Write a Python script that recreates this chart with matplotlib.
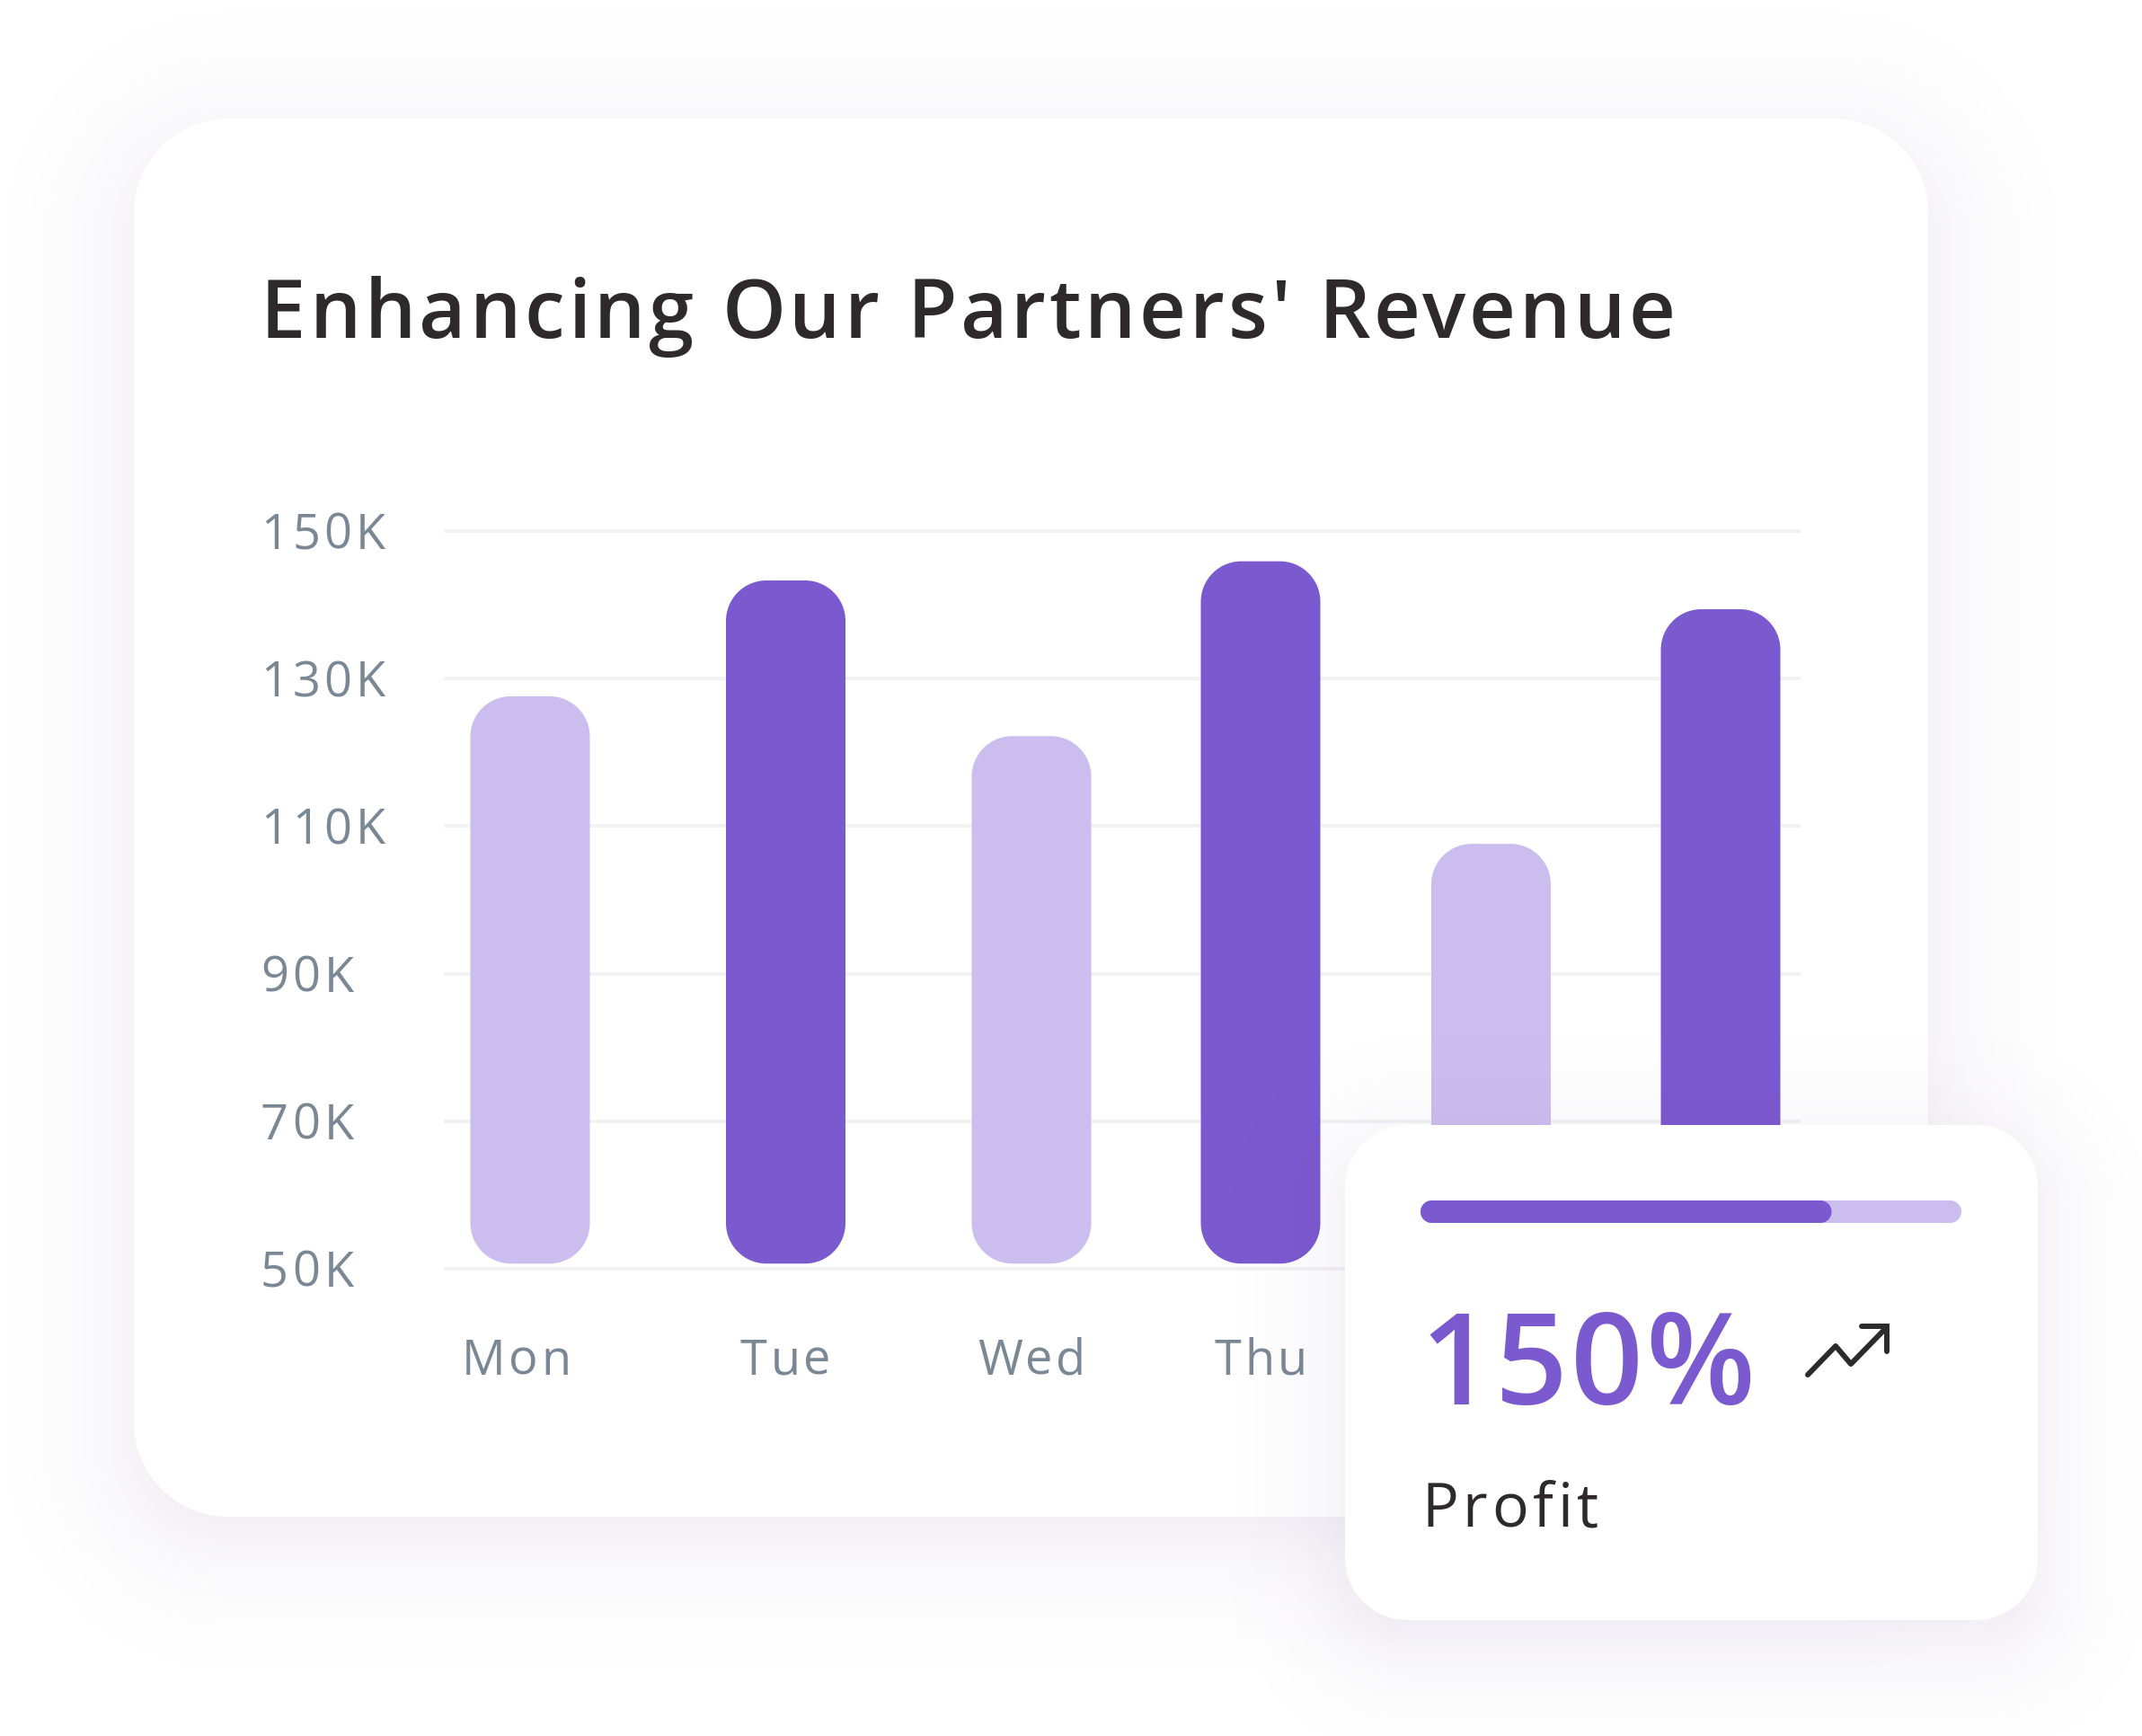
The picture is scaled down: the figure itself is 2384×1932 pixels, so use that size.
import numpy as np
import matplotlib
matplotlib.use('Agg')
import matplotlib.pyplot as plt
from matplotlib.font_manager import findfont, get_font
from matplotlib.ft2font import Kerning, LoadFlags
from matplotlib.patches import PathPatch
from matplotlib.path import Path
from matplotlib.text import Text
from matplotlib.transforms import ScaledTranslation

plt.rcParams['font.family'] = ['Open Sans', 'DejaVu Sans']

days = ['Mon', 'Tue', 'Wed', 'Thu']  # the last two are hidden behind the profit card
revenue = [127.6, 143.3, 122.2, 145.9, 107.6, 139.4]
highlight = [False, True, False, True, False, True]
y_ticks = [50, 70, 90, 110, 130, 150]
y_labels = ['50K', '70K', '90K', '110K', '130K', '150K']
title = "Enhancing Our Partners' Revenue"
profit_value = '150%'
profit_label = 'Profit'
progress_share = 0.76

W, H = 2384, 1932
PURPLE = '#7B59CE'
LIGHT = '#CBBDEE'
DARK = '#2E2A2B'
GREY = '#7A8794'
GRID = '#F2F2F4'

# bars are not evenly spaced in the picture
bar_x = [590, 874.5, 1148, 1403, 1659.5, 1915]
label_left = [514, 824, 1088, 1352]
bar_w = 133
bar_base = 50.7


class SpacedText(Text):
    # one text with letter spacing, which matplotlib has no option for
    def __init__(self, x, y, text, spacing=0, **kwargs):
        super().__init__(x, y, text, **kwargs)
        self.spacing = spacing

    def draw(self, renderer):
        prop = self.get_fontproperties()
        font = get_font(findfont(prop))
        font.set_size(prop.get_size_in_points(), renderer.dpi)
        x, y = self.get_transform().transform(self.get_position())
        y = renderer.get_canvas_width_height()[1] - y
        gc = renderer.new_gc()
        gc.set_foreground(self.get_color())
        prev = None
        for ch in self.get_text():
            idx = font.get_char_index(ord(ch))
            if prev is not None:
                x += font.get_kerning(prev, idx, Kerning.DEFAULT) / 64
            renderer.draw_text(gc, x, y, ch, prop, 0)
            x += font.load_char(ord(ch), flags=LoadFlags.NO_HINTING).linearHoriAdvance / 65536
            x += self.spacing
            prev = idx
        gc.restore()


def shadow(x0, y0, x1, y1, r, soft, strength, color):
    yy, xx = np.mgrid[0:H, 0:W]
    cx, cy = (x0 + x1) / 2, (y0 + y1) / 2
    qx = np.abs(xx + 0.5 - cx) - (x1 - x0) / 2 + r
    qy = np.abs(yy + 0.5 - cy) - (y1 - y0) / 2 + r
    d = np.hypot(np.maximum(qx, 0), np.maximum(qy, 0)) + np.minimum(np.maximum(qx, qy), 0) - r
    a = strength / (1 + np.exp(np.clip(d / soft, -30, 30)))
    img = np.zeros((H, W, 4))
    img[..., :3] = matplotlib.colors.to_rgb(color)
    img[..., 3] = a
    return img


def px_axes(z):
    a = fig.add_axes([0, 0, 1, 1], zorder=z)
    a.set_xlim(0, W)
    a.set_ylim(H, 0)
    a.axis('off')
    a.patch.set_alpha(0)
    return a


def rounded(x0, y0, x1, y1, rx, ry):
    # rectangle with true circular corners, FancyBboxPatch corners are too square
    k = 0.4477
    verts = [(x0 + rx, y0), (x1 - rx, y0),
             (x1 - k * rx, y0), (x1, y0 + k * ry), (x1, y0 + ry),
             (x1, y1 - ry),
             (x1, y1 - k * ry), (x1 - k * rx, y1), (x1 - rx, y1),
             (x0 + rx, y1),
             (x0 + k * rx, y1), (x0, y1 - k * ry), (x0, y1 - ry),
             (x0, y0 + ry),
             (x0, y0 + k * ry), (x0 + k * rx, y0), (x0 + rx, y0),
             (x0 + rx, y0)]
    codes = [Path.MOVETO, Path.LINETO,
             Path.CURVE4, Path.CURVE4, Path.CURVE4,
             Path.LINETO,
             Path.CURVE4, Path.CURVE4, Path.CURVE4,
             Path.LINETO,
             Path.CURVE4, Path.CURVE4, Path.CURVE4,
             Path.LINETO,
             Path.CURVE4, Path.CURVE4, Path.CURVE4,
             Path.CLOSEPOLY]
    return Path(verts, codes)


def card(a, x0, y0, x1, y1, r, color='white'):
    a.add_patch(PathPatch(rounded(x0, y0, x1, y1, r, r), fc=color, ec='none'))


fig = plt.figure(figsize=(W / 100, H / 100), dpi=100, facecolor='white')

# main card with its shadow
back = px_axes(0)
back.imshow(shadow(149, 160, 2146, 1710, 105, 42, 0.13, '#6E4F91'),
            extent=(0, W, H, 0), aspect='auto', interpolation='bilinear')
card(back, 149, 132, 2146, 1688, 105)
back.set_xlim(0, W)
back.set_ylim(H, 0)
back.add_artist(SpacedText(290, 376, title, spacing=3.8, fontsize=65, fontweight=600,
                           color=DARK, transform=back.transData))

# chart
ax = fig.add_axes([494 / W, 1 - 1412 / H, (2004 - 494) / W, (1412 - 591) / H], zorder=1)
ax.patch.set_alpha(0)
ax.set_xlim(494, 2004)
ax.set_ylim(50, 150)
units_per_px = 100 / (1412 - 591)
for x, v, hi in zip(bar_x, revenue, highlight):
    ax.add_patch(PathPatch(rounded(x - bar_w / 2, bar_base, x + bar_w / 2, v, 45, 45 * units_per_px),
                           fc=PURPLE if hi else LIGHT, ec='none', zorder=3))
ax.set_yticks(y_ticks)
ax.set_yticklabels([])
ax.set_xticks([])
ax.tick_params(axis='y', length=0)
ax.grid(axis='y', color=GRID, lw=2.8, zorder=1, clip_on=False, solid_capstyle='butt')
ax.set_axisbelow(True)
for s in ax.spines.values():
    s.set_visible(False)

down = ScaledTranslation(0, -20 / 100, fig.dpi_scale_trans)
for tick, lab in zip(y_ticks, y_labels):
    ax.add_artist(SpacedText(290, tick, lab, spacing=4.2, fontsize=39, color=GREY,
                             transform=ax.transData + down))
down = ScaledTranslation(0, -118 / 100, fig.dpi_scale_trans)
for x, lab in zip(label_left, days):
    ax.add_artist(SpacedText(x, 0, lab, spacing=3.5, fontsize=39, color=GREY,
                             transform=ax.get_xaxis_transform() + down))

# profit card on top
top = px_axes(2)
top.imshow(shadow(1497, 1280, 2268, 1830, 69, 36, 0.13, '#6E4F91'),
           extent=(0, W, H, 0), aspect='auto', interpolation='bilinear')
card(top, 1497, 1252, 2268, 1803, 69)
top.set_xlim(0, W)
top.set_ylim(H, 0)

bar_left, bar_right = 1581, 2183
card(top, bar_left, 1336, bar_right, 1361, 12.5, LIGHT)
card(top, bar_left, 1336, bar_left + (bar_right - bar_left) * progress_share, 1361, 12.5, PURPLE)

top.add_artist(SpacedText(1580, 1563, profit_value, spacing=3, fontsize=102, fontweight=600,
                          color=PURPLE, transform=top.transData))
top.add_artist(SpacedText(1582, 1699, profit_label, spacing=4.7, fontsize=49,
                          color=DARK, transform=top.transData))

top.plot([2012, 2043, 2060, 2098], [1530, 1498, 1518, 1479], color='#2B2B2B', lw=4.3,
         solid_capstyle='round', solid_joinstyle='round')
top.plot([2072, 2100, 2100], [1476, 1476, 1504], color='#2B2B2B', lw=4.3,
         solid_capstyle='round', solid_joinstyle='miter')

fig.savefig('out.png', dpi=100)
